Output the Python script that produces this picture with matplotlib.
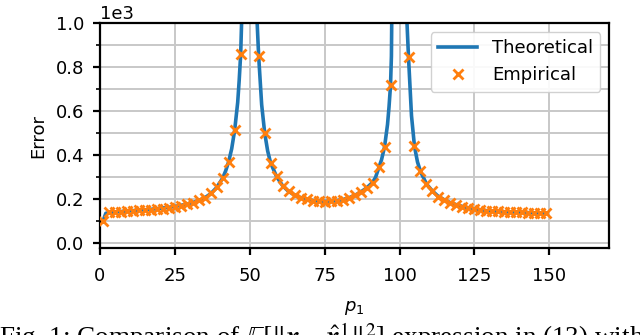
import numpy as np
import matplotlib
matplotlib.use("Agg")
import matplotlib.pyplot as plt
from matplotlib.ticker import MultipleLocator

plt.rcParams["mathtext.fontset"] = "stix"

# theoretical curve (extra points near the two poles)
p_theo = [1, 2, 3, 5, 7, 9, 11, 13, 15, 17, 19, 21, 23, 25, 27, 29, 31, 33,
          35, 37, 39, 41, 42, 43, 44, 45, 46, 46.5, 47, 47.3, 47.6,
          52.2, 52.5, 53, 54, 55, 56, 57, 59, 61, 63, 65, 67, 69, 71, 73, 75,
          77, 79, 81, 83, 85, 87, 89, 91, 92, 93, 94, 95, 96, 96.5, 97, 97.3,
          97.6, 102.2, 102.5, 103, 104, 105, 106, 107, 109, 111, 113, 115,
          117, 119, 121, 123, 125, 127, 129, 131, 133, 135, 137, 139, 141,
          143, 145, 147, 149]
err_theo = [100, 137, 140, 143, 145, 147, 149, 151, 153, 155, 158, 161, 164,
            168, 173, 179, 186, 195, 207, 226, 254, 297, 330, 372, 430, 515,
            640, 740, 860, 1000, 1300,
            1300, 1000, 850, 630, 503, 420, 365, 303, 262, 236, 220, 208, 200,
            195, 192, 191, 191, 194, 199, 207, 218, 233, 252, 277, 300, 340,
            380, 438, 540, 620, 718, 850,
            1300, 1300, 1000, 846, 580, 440, 370, 327, 270, 238, 213, 198,
            185, 176, 168, 161, 156, 152, 149, 147, 145, 144, 143, 142, 141,
            140, 139, 138, 137]

# empirical points (odd p1, those inside the view)
p_emp = [1, 3, 5, 7, 9, 11, 13, 15, 17, 19, 21, 23, 25, 27, 29, 31, 33, 35,
         37, 39, 41, 43, 45, 47, 53, 55, 57, 59, 61, 63, 65, 67, 69, 71, 73,
         75, 77, 79, 81, 83, 85, 87, 89, 91, 93, 95, 97, 103, 105, 107, 109,
         111, 113, 115, 117, 119, 121, 123, 125, 127, 129, 131, 133, 135, 137,
         139, 141, 143, 145, 147, 149]
err_emp = [100, 141, 144, 143, 146, 148, 150, 150, 154, 156, 157, 162, 166,
           172, 180, 185, 196, 206, 228, 256, 297, 372, 515, 860, 850, 502,
           365, 305, 260, 238, 219, 207, 201, 194, 192, 190, 192, 195, 199,
           208, 220, 232, 250, 276, 345, 437, 717, 846, 441, 327, 269, 237,
           213, 198, 186, 175, 167, 161, 156, 152, 149, 147, 146, 144, 143,
           142, 141, 140, 139, 138, 137]

fig = plt.figure(figsize=(6.4, 3.35), dpi=100)
ax = fig.add_axes([0.156, 0.26, 0.796, 0.671])

ax.plot(p_theo, err_theo, color="C0", lw=2.6, label="Theoretical", zorder=2)
ax.plot(p_emp, err_emp, "x", color="C1", ms=7.5, mew=2, label="Empirical",
        zorder=3)

ax.set_xlim(0, 170)
ax.set_ylim(-20, 1000)
ax.xaxis.set_major_locator(MultipleLocator(25))
ax.yaxis.set_major_locator(MultipleLocator(200))
ax.yaxis.set_minor_locator(MultipleLocator(100))
ax.ticklabel_format(axis="y", style="sci", scilimits=(0, 0))
ax.yaxis.get_offset_text().set_fontsize(13)

ax.grid(True, which="major", color="#c8c8c8", lw=1.4)
ax.grid(True, which="minor", axis="y", color="#c8c8c8", lw=1.4)
ax.set_axisbelow(True)

for s in ax.spines.values():
    s.set_linewidth(1.6)
ax.tick_params(which="major", labelsize=13, width=1.6, length=5, pad=6)
ax.tick_params(axis="x", which="major", pad=9)
ax.tick_params(which="minor", width=1.2, length=3)

ax.set_xlabel("$p_1$", fontsize=13, labelpad=10)
ax.xaxis.label.set_math_fontfamily("dejavusans")
ax.set_ylabel("Error", fontsize=13, labelpad=6)

ax.legend(loc="upper right", fontsize=13, handlelength=2.2,
          borderaxespad=0.5, framealpha=0.9)

fig.text(-0.002, 0.045,
         r"Fig. 1: Comparison of $\mathbb{E}[\|\mathbfit{x}-\hat{\mathbfit{x}}^1\|^2]$ expression in (13) with",
         family="Liberation Serif", fontsize=19.5, va="top", ha="left")

fig.savefig("out.png", dpi=100)
